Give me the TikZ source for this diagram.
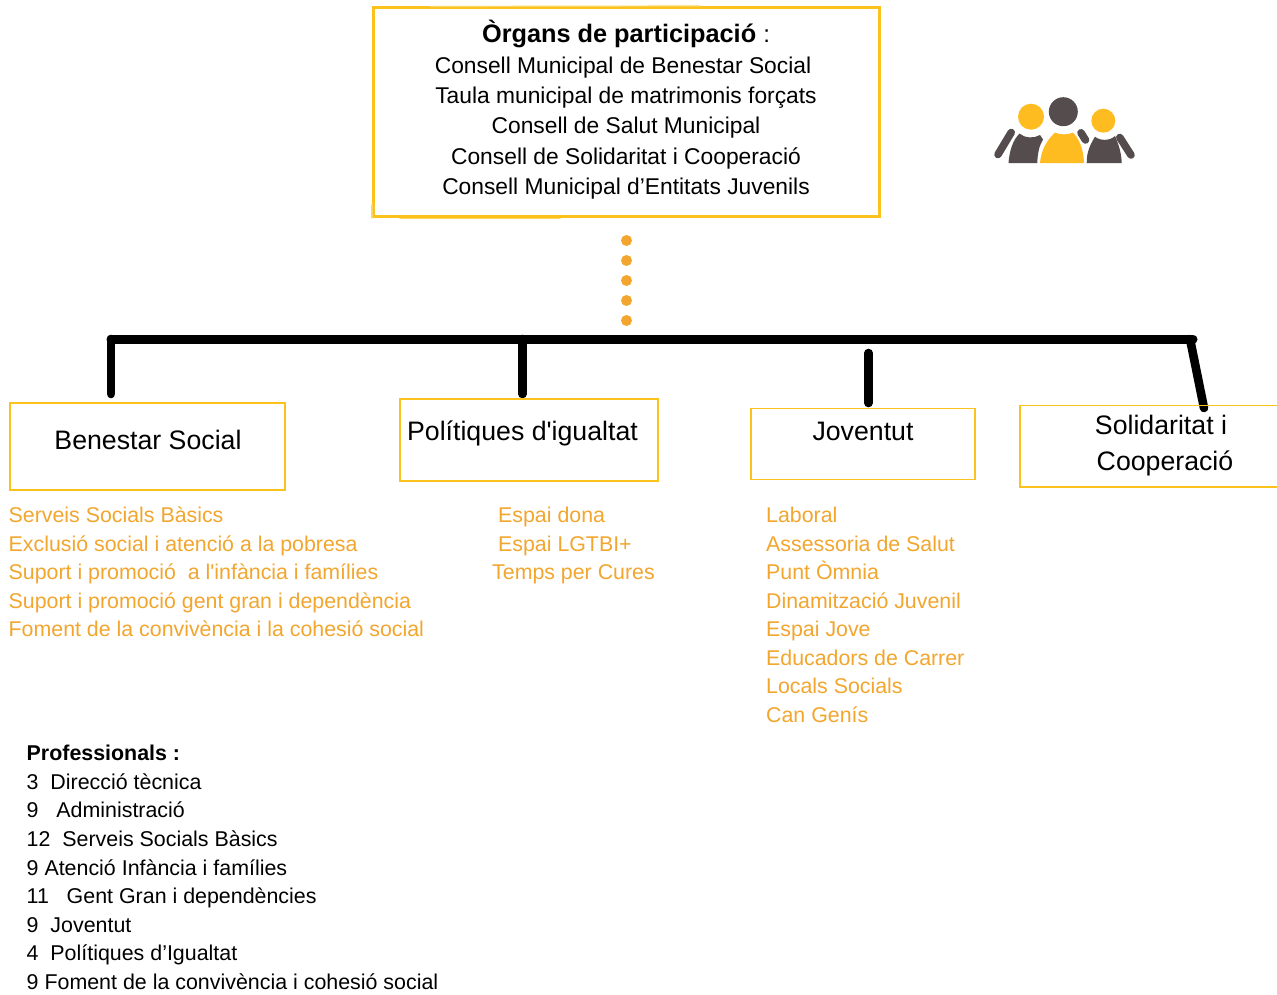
\documentclass[tikz,border=0pt]{standalone}
\usepackage{fontspec}
\setmainfont{Liberation Sans}[Ligatures=TeXOff]
\definecolor{boxyellow}{HTML}{FBC21C}
\definecolor{listorange}{HTML}{F2A62E}
\definecolor{icondark}{HTML}{544C4D}
\definecolor{iconyellow}{HTML}{FFBC20}
\newcommand{\fs}[1]{\fontsize{#1}{#1}\selectfont}
\tikzset{
  mainbox/.style={draw=boxyellow,line width=2.6pt,rectangle,inner sep=0pt},
  areabox/.style={draw=boxyellow,line width=1.4pt,rectangle,inner sep=0pt},
  sketchline/.style={draw=boxyellow!70,line width=1.2pt,line cap=round},
  maintext/.style={anchor=base,inner sep=0pt,text=black,font=\fs{22.8}},
  areatitle/.style={anchor=base,inner sep=0pt,text=black,font=\fs{26.7}},
  itemtext/.style={anchor=base west,inner sep=0pt,text=listorange,font=\fs{21.35}},
  proftext/.style={anchor=base west,inner sep=0pt,text=black,font=\fs{21.4}},
  dotnode/.style={circle,fill=listorange,inner sep=0pt,minimum size=11pt},
  busline/.style={line width=9pt,line cap=round,black},
  stemline/.style={line width=8.6pt,line cap=round,black},
  armline/.style={line width=7.6pt,line cap=round,icondark}
}
\begin{document}
\begin{tikzpicture}[x=1pt,y=-1pt]
\useasboundingbox (0,0) rectangle (1277,994);
\fill[white] (0,0) rectangle (1277,994);

% main box
\node[mainbox,minimum width=506pt,minimum height=209pt] (organs) at (626.5,112) {};
\draw[sketchline] (372,218) -- (372,205);
\draw[sketchline] (400,218.5) -- (560,218.5);
\draw[sketchline] (430,6.5) -- (700,6);
\node[maintext] (t0) at (626,42) {\fs{25.3}\textbf{Òrgans de participació} \fs{24}:};
\node[maintext] (t1) at (623,73) {Consell Municipal de Benestar Social};
\node[maintext] (t2) at (626,103) {Taula municipal de matrimonis forçats};
\node[maintext] (t3) at (626,133) {Consell de Salut Municipal};
\node[maintext] (t4) at (626,164) {Consell de Solidaritat i Cooperació};
\node[maintext] (t5) at (626,194) {Consell Municipal d’Entitats Juvenils};

% dots
\foreach \n/\y in {1/240.5,2/260.5,3/280.5,4/300.5,5/320.5}
  \node[dotnode] (dot\n) at (626.5,\y) {};

% bus and stems
\coordinate (busL) at (111,339);
\coordinate (busR) at (1193,339);
\coordinate (stemAtop) at (111,339);
\coordinate (stemAend) at (111,394);
\coordinate (stemBtop) at (522.5,339);
\coordinate (stemBend) at (522.5,394);
\coordinate (stemCtop) at (868.5,353);
\coordinate (stemCend) at (868.5,403);
\coordinate (stemDtop) at (1190,339);
\coordinate (stemDend) at (1204,408);
\draw[stemline] (stemAtop) -- (stemAend);
\draw[stemline] (stemBtop) -- (stemBend);
\draw[stemline] (stemCtop) -- (stemCend);
\draw[stemline] (stemDtop) -- (stemDend);
\draw[busline] (busL) -- (busR);

% area boxes
\node[areabox,minimum width=275pt,minimum height=87pt] (benestar) at (147.5,446.5) {};
\node[areabox,minimum width=258pt,minimum height=82pt] (igualtat) at (529,440) {};
\node[areabox,minimum width=224pt,minimum height=71pt] (joventut) at (863,444) {};
\draw[draw=boxyellow,line width=1.4pt] (1277,405.5) -- (1020,405.5) -- (1020,487) -- (1277,487);
\node[areatitle] (benestarT) at (148,449) {Benestar Social};
\node[areatitle] (igualtatT) at (522.5,440) {Polítiques d'igualtat};
\node[areatitle] (joventutT) at (863,440) {Joventut};
\node[areatitle] (solT1) at (1161,434) {Solidaritat i};
\node[areatitle] (solT2) at (1165,470) {Cooperació};

% lists
\node[itemtext] (a1) at (8.5,522) {Serveis Socials Bàsics};
\node[itemtext] (a2) at (8.5,551) {Exclusió social i atenció a la pobresa};
\node[itemtext] (a3) at (8.5,579) {Suport i promoció\ \ a l'infància i famílies};
\node[itemtext] (a4) at (8.5,608) {Suport i promoció gent gran i dependència};
\node[itemtext] (a5) at (8.5,636) {Foment de la convivència i la cohesió social};

\node[itemtext] (b1) at (498,522) {Espai dona};
\node[itemtext] (b2) at (498,551) {Espai LGTBI+};
\node[itemtext] (b3) at (492,579) {Temps per Cures};

\node[itemtext] (c1) at (766,522) {Laboral};
\node[itemtext] (c2) at (766,551) {Assessoria de Salut};
\node[itemtext] (c3) at (766,579) {Punt Òmnia};
\node[itemtext] (c4) at (766,608) {Dinamització Juvenil};
\node[itemtext] (c5) at (766,636) {Espai Jove};
\node[itemtext] (c6) at (766,665) {Educadors de Carrer};
\node[itemtext] (c7) at (766,693) {Locals Socials};
\node[itemtext] (c8) at (766,722) {Can Genís};

% professionals
\node[proftext] (p0) at (26.5,760) {\textbf{Professionals :}};
\node[proftext] (p1) at (26.5,789) {3\ \ Direcció tècnica};
\node[proftext] (p2) at (26.5,817) {9\ \ \ Administració};
\node[proftext] (p3) at (26.5,846) {12\ \ Serveis Socials Bàsics};
\node[proftext] (p4) at (26.5,875) {9 Atenció Infància i famílies};
\node[proftext] (p5) at (26.5,903) {11\ \ \ Gent Gran i dependències};
\node[proftext] (p6) at (26.5,932) {9\ \ Joventut};
\node[proftext] (p7) at (26.5,960) {4\ \ Polítiques d’Igualtat};
\node[proftext] (p8) at (26.5,989) {9 Foment de la convivència i cohesió social};

% people icon
\fill[iconyellow] (1031,116.7) circle (13);
\fill[icondark] (1063.3,111.7) circle (14.5);
\fill[iconyellow] (1103.3,120.7) circle (12);
\fill[icondark] (1008.5,163) .. controls (1009.5,150) and (1013,140) .. (1019.5,133.5)
  .. controls (1025,138.5) and (1034,138.5) .. (1040,135) -- (1043,139.5)
  .. controls (1039,146) and (1037.5,154) .. (1037.3,163) -- cycle;
\fill[iconyellow] (1040,163) .. controls (1041,150) and (1047,140) .. (1055,132.5)
  .. controls (1060,135) and (1068,135) .. (1073,132.5)
  .. controls (1080,140) and (1083.5,150) .. (1084,163) -- cycle;
\fill[icondark] (1086.7,163) .. controls (1086.7,155) and (1088,148) .. (1095,136.7)
  .. controls (1100,141) and (1110,141) .. (1115,136)
  .. controls (1119,145) and (1121.5,154) .. (1121.7,163) -- cycle;
\draw[armline] (1011.2,132.5) -- (998,154.5);
\draw[armline] (1119.8,137.5) -- (1131,155);
\draw[armline] (1081,132.8) -- (1085.5,140);
\end{tikzpicture}
\end{document}
